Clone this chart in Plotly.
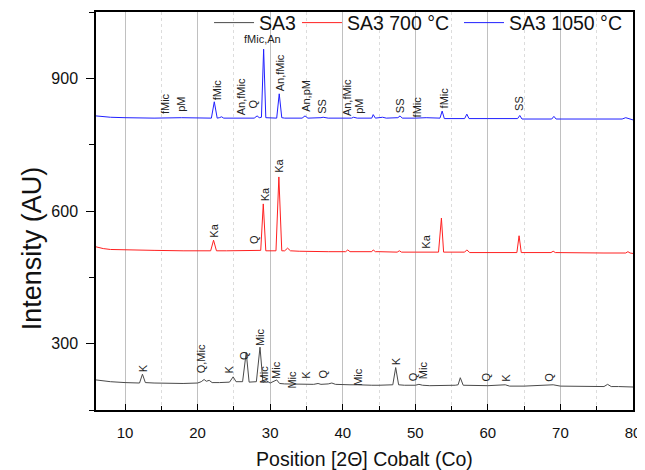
import plotly.graph_objects as go

# ---- data ----
x_sa3 = [6, 8, 10, 12.0, 12.4, 12.8, 14, 16, 18, 20, 20.5, 20.9, 21.2, 21.6, 22, 23, 24.4, 24.9, 25.3,
         26.2, 26.7, 27.1, 28.1, 28.6, 29.0, 29.5, 30, 30.9, 31.3, 32, 33, 34, 35, 36, 36.6, 37, 38, 38.5,
         39, 40, 41, 42, 43, 44, 45, 46, 46.9, 47.3, 47.7, 48.5, 50, 50.5, 51, 52, 54, 55.5, 55.9, 56.2,
         56.6, 58, 60, 62.4, 63, 65, 68.5, 69, 70, 72, 74, 76, 76.5, 77, 78, 80]
y_sa3 = [218, 214, 212, 211, 231, 212, 211, 210, 210, 211, 214, 219, 215, 217, 212, 212, 213, 225, 214,
         214, 280, 213, 214, 292, 213, 216, 211, 218, 210, 209, 209, 208, 209, 208, 210, 208, 209, 211,
         208, 207, 207, 207, 206, 206, 206, 206, 207, 246, 207, 206, 206, 208, 206, 205, 205, 206, 207, 223,
         206, 205, 205, 207, 204, 204, 206, 207, 204, 204, 203, 203, 208, 203, 203, 202]

x_700 = [6, 7, 8, 10, 14, 18, 20, 21.8, 22.2, 22.6, 24, 26, 27.8, 28.7, 29.05, 29.4, 30.8, 31.2, 31.6,
         32.0, 32.4, 32.8, 34, 36, 38, 40.4, 40.7, 41, 44, 44.2, 44.5, 45, 47.5, 47.8, 48.1, 50, 53.2,
         53.6, 53.9, 56.8, 57.1, 57.5, 60, 64.0, 64.3, 64.6, 68.7, 69, 69.3, 72, 76, 79, 79.3, 79.6, 80]
y_700 = [519, 515, 513, 512, 511, 510, 510, 510, 534, 510, 510, 511, 512, 511, 616, 510, 510, 677, 510,
         510, 516, 510, 509, 508, 508, 508, 512, 508, 508, 512, 508, 508, 507, 510, 507, 507, 507,
         584, 507, 507, 512, 506, 506, 506, 544, 506, 506, 509, 506, 505, 505, 505, 508, 505, 504]

x_1050 = [6, 8, 10, 14, 17.8, 20, 21.9, 22.3, 22.7, 23.0, 23.3, 23.6, 26, 27.8, 28.2, 28.5, 28.8, 29.1,
          29.4, 30.9, 31.25, 31.6, 32, 34.4, 34.8, 35.2, 37, 37.3, 38, 40, 41.2, 41.5, 42, 44, 44.2, 44.5,
          45, 45.5, 46, 47.6, 47.9, 48.2, 50, 51.5, 53.4, 53.7, 54, 56.8, 57.1, 57.4, 60, 62.5, 64.1,
          64.4, 64.7, 68.8, 69.1, 69.4, 72, 76, 78.5, 79, 79.5, 80]
y_1050 = [815, 812, 811, 810, 811, 810, 810, 847, 810, 811, 813, 810, 810, 810, 815, 811, 812, 966,
          811, 810, 865, 811, 810, 810, 815, 810, 811, 812, 810, 810, 810, 812, 810, 810, 818, 810,
          811, 812, 810, 811, 815, 810, 810, 811, 810, 826, 809, 809, 819, 809, 809, 809, 809,
          816, 808, 808, 814, 808, 808, 807, 808, 811, 809, 806]

series_names = ["SA3", "SA3 700 °C", "SA3 1050 °C"]

# phase labels: x, bottom of text (y), text, rotated?
lab_x = [15.5, 17.7, 22.6, 26.1, 27.6, 29.0, 31.4, 35.0, 37.1, 40.5, 42.2, 47.9, 50.2, 53.9, 64.3,
         22.3, 27.7, 29.3, 31.2, 51.5,
         12.4, 20.5, 24.3, 26.4, 28.5, 29.1, 30.8, 33.0, 34.9, 37.3, 42.0, 47.3, 49.7, 51.1, 59.8, 62.4, 68.5]
lab_y = [818, 823, 848, 815, 830, 973, 868, 823, 818, 812, 818, 818, 810, 830, 823,
         538, 523, 620, 684, 513,
         234, 230, 230, 260, 293, 207, 218, 196, 218, 218, 203, 248, 212, 218, 212, 212, 212]
lab_t = ["fMic", "pM", "fMic", "An,fMic", "Q", "fMic,An", "An,fMic", "An,pM", "SS", "An,fMic", "pM",
         "SS", "fMic", "fMic", "SS",
         "Ka", "Q", "Ka", "Ka", "Ka",
         "K", "Q,Mic", "K", "Q", "Mic", "Mic", "Mic", "Mic", "K", "Q", "Mic", "K", "Q", "Mic", "Q", "K", "Q"]
lab_rot = [True] * len(lab_t)
lab_rot[5] = False

FONT = "Liberation Sans, Arial, sans-serif"
colors = ["#4a4a4a", "#ff2020", "#2020ff"]
legend_ids = ["legend", "legend2", "legend3"]

fig = go.Figure()
for xs, ys, nm, c, lg in zip([x_sa3, x_700, x_1050], [y_sa3, y_700, y_1050], series_names, colors, legend_ids):
    fig.add_trace(go.Scatter(x=xs, y=ys, mode="lines", name=nm, legend=lg,
                             line=dict(color=c, width=1)))

for x, y, t, r in zip(lab_x, lab_y, lab_t, lab_rot):
    fig.add_annotation(x=x, y=y, text=t, showarrow=False, textangle=-90 if r else 0,
                       xanchor="center", yanchor="bottom",
                       font=dict(family=FONT, size=11, color="#222"),
                       borderpad=0)

# y-axis title (placed as in the reference, lower than the axis centre)
fig.add_annotation(xref="paper", yref="paper", x=-0.12, y=0.405, text="Intensity (AU)",
                   textangle=-90, showarrow=False, xanchor="center", yanchor="middle",
                   font=dict(family=FONT, size=27, color="#111"))

leg_common = dict(orientation="h", y=0.9725, yanchor="middle", xanchor="left",
                  bgcolor="rgba(0,0,0,0)", font=dict(size=19.5, family=FONT, color="#111"),
                  itemwidth=40)
fig.update_layout(
    width=637, height=462,
    margin=dict(l=88, r=12, t=4, b=60, autoexpand=False),
    paper_bgcolor="white", plot_bgcolor="white",
    font=dict(family=FONT, color="#111"),
    showlegend=True,
    legend=dict(x=0.2105, **leg_common),
    legend2=dict(x=0.3743, **leg_common),
    legend3=dict(x=0.676, **leg_common),
)
fig.update_xaxes(
    range=[6, 80], tick0=10, dtick=10, ticks="inside", ticklen=6, tickwidth=1, tickcolor="black",
    showline=True, linecolor="black", linewidth=1.5, mirror=True, automargin=False,
    showgrid=True, gridcolor="#c0c0c0", gridwidth=1, zeroline=False,
    minor=dict(dtick=5, tick0=5, ticks="inside", ticklen=4, tickcolor="black",
               showgrid=True, gridcolor="#dcdcdc", griddash="dot", gridwidth=1),
    tickfont=dict(size=15, family=FONT, color="#111"), ticklabelstandoff=8,
    title=dict(text="Position [2Θ] Cobalt (Co)", font=dict(size=19.5, family=FONT, color="#111"), standoff=14),
)
fig.update_yaxes(
    range=[150, 1050], tick0=300, dtick=300, ticks="outside", ticklen=8, tickwidth=1, tickcolor="black",
    showline=True, linecolor="black", linewidth=1.5, mirror=True, automargin=False,
    showgrid=False, zeroline=False,
    minor=dict(dtick=150, tick0=150, ticks="outside", ticklen=5, tickcolor="black", showgrid=False),
    tickfont=dict(size=16, family=FONT, color="#111"), ticklabelstandoff=5,
)

fig.write_html("out.html")
